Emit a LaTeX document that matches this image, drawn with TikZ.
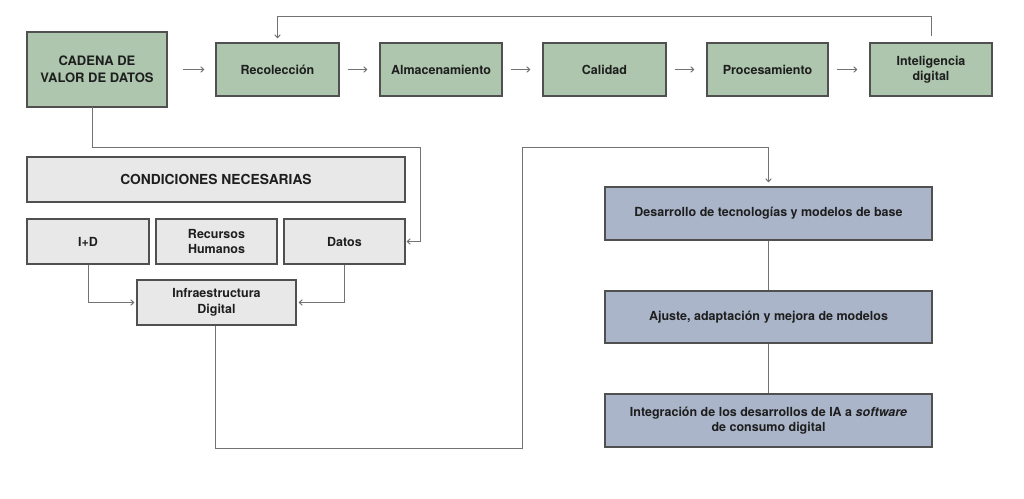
\documentclass[tikz,border=0pt]{standalone}
\usepackage{fontspec}
\setmainfont{TeX Gyre Heros}
\usetikzlibrary{arrows.meta}
\definecolor{greenbox}{RGB}{173,198,173}
\definecolor{graybox}{RGB}{232,232,232}
\definecolor{bluebox}{RGB}{170,181,201}
\definecolor{boxline}{RGB}{80,80,80}
\definecolor{conline}{RGB}{115,115,115}
\definecolor{txt}{RGB}{30,30,30}
\tikzset{
  basebox/.style={draw=boxline, line width=1.1pt, inner sep=2pt, align=center,
    text=txt, font=\fontsize{12.5}{15.5}\selectfont\bfseries},
  gbox/.style={basebox, fill=greenbox},
  cbox/.style={basebox, fill=graybox},
  bbox/.style={basebox, fill=bluebox},
  con/.style={draw=conline, line width=1pt},
  arr/.style={con, -{Straight Barb[length=3pt,width=5.5pt]}},
}
\begin{document}
\begin{tikzpicture}[x=1pt,y=-1pt]
\useasboundingbox (0,0) rectangle (1024,498);
% top row
\node[gbox, minimum width=140pt, minimum height=75pt, font=\fontsize{13}{16.5}\selectfont\bfseries] (cadena) at (97,69.5) {CADENA DE\\VALOR DE DATOS};
\node[gbox, minimum width=123pt, minimum height=53pt] (rec) at (277.5,69.5) {Recolección};
\node[gbox, minimum width=122pt, minimum height=53pt] (alm) at (441,69.5) {Almacenamiento};
\node[gbox, minimum width=123pt, minimum height=53pt] (cal) at (604.5,69.5) {Calidad};
\node[gbox, minimum width=121pt, minimum height=53pt] (pro) at (767.5,69.5) {Procesamiento};
\node[gbox, minimum width=122pt, minimum height=53pt] (intel) at (931,69.5) {Inteligencia\\digital};
% conditions
\node[cbox, minimum width=378pt, minimum height=45pt, font=\fontsize{13.8}{16}\selectfont\bfseries] (cond) at (216,179.5) {CONDICIONES NECESARIAS};
\node[cbox, minimum width=122pt, minimum height=45pt] (id) at (88,241.5) {I+D};
\node[cbox, minimum width=121pt, minimum height=45pt] (rh) at (216.5,241.5) {Recursos\\Humanos};
\node[cbox, minimum width=121pt, minimum height=45pt] (datos) at (344.5,241.5) {Datos};
\node[cbox, minimum width=159pt, minimum height=45pt] (infra) at (216.5,302.5) {Infraestructura\\Digital};
% blue column
\node[bbox, minimum width=327pt, minimum height=53pt] (des) at (768.5,213.5) {Desarrollo de tecnologías y modelos de base};
\node[bbox, minimum width=327pt, minimum height=52pt] (aju) at (768.5,317) {Ajuste, adaptación y mejora de modelos};
\node[bbox, minimum width=327pt, minimum height=53pt] (integ) at (768.5,420.5) {Integración de los desarrollos de IA a \textit{software}\\de consumo digital};
% chain arrows
\draw[arr, shorten <=15pt, shorten >=11pt] (cadena.east) -- (rec.west);
\draw[arr, shorten <=8pt, shorten >=12pt] (rec.east) -- (alm.west);
\draw[arr, shorten <=8pt, shorten >=12pt] (alm.east) -- (cal.west);
\draw[arr, shorten <=8pt, shorten >=12pt] (cal.east) -- (pro.west);
\draw[arr, shorten <=8pt, shorten >=12pt] (pro.east) -- (intel.west);
% feedback
\coordinate (fb) at (0,16);
\draw[arr, shorten >=4pt] ([yshift=6pt]intel.north) -- (intel.north |- fb) -- (rec.north |- fb) -- (rec.north);
% cadena to datos
\coordinate (c1) at (92,107);
\coordinate (c2) at (92,147);
\coordinate (c3) at (420,147);
\draw[arr, shorten >=1pt] (c1) -- (c2) -- (c3) -- (c3 |- datos.east) -- (datos.east);
% I+D and Datos to infra
\draw[arr, shorten >=2pt] (id.south) |- (infra.west);
\draw[arr, shorten >=2pt] (datos.south) |- (infra.east);
% infra to desarrollo
\coordinate (d1) at (215,448);
\coordinate (d2) at (522,448);
\coordinate (d3) at (522,147);
\draw[arr, shorten >=4pt] (infra.south -| d1) -- (d1) -- (d2) -- (d3) -- (des.north |- d3) -- (des.north);
% blue column lines
\draw[con] (des.south) -- (aju.north);
\draw[con] (aju.south) -- (integ.north);
\end{tikzpicture}
\end{document}
